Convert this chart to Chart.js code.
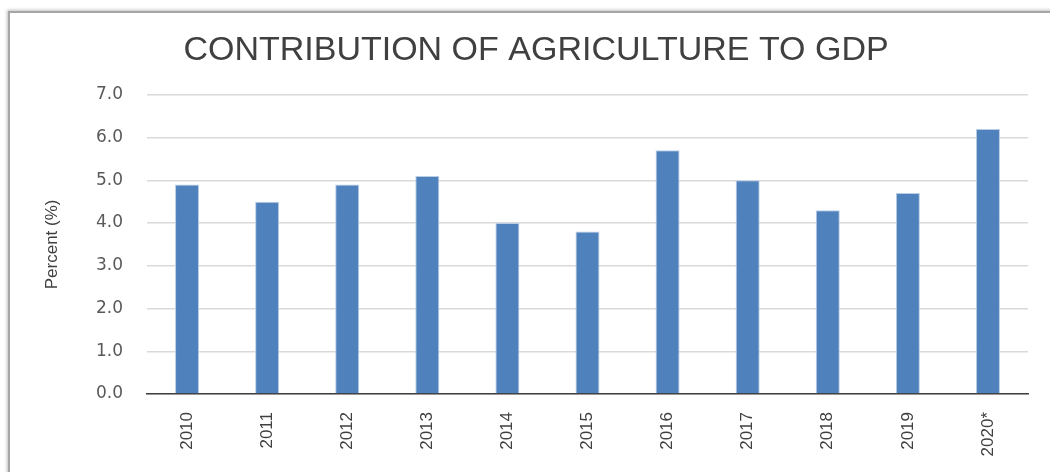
<!DOCTYPE html>
<html>
<head>
<meta charset="utf-8">
<script src="https://cdn.jsdelivr.net/npm/chart.js@4"></script>
<style>
  body { margin: 0; background: #fff; }
  #wrap { position: relative; width: 1050px; height: 472px; overflow: hidden; }
  #frame { position: absolute; left: 8px; top: 11px; width: 1100px; height: 500px;
           border-left: 2px solid #a6a6a6; border-top: 2px solid #a6a6a6;
           box-shadow: -1px -1px 3px rgba(0,0,0,0.25); }
  canvas { position: absolute; left: 0; top: 0; }
</style>
</head>
<body>
<div id="wrap">
  <div id="frame"></div>
  <canvas id="chart" width="1050" height="472"></canvas>
</div>
<script>
let years = ["2010", "2011", "2012", "2013", "2014", "2015", "2016", "2017", "2018", "2019", "2020*"]
let share = [4.9, 4.5, 4.9, 5.1, 4.0, 3.8, 5.7, 5.0, 4.3, 4.7, 6.2]

new Chart(document.getElementById("chart"), {
    type: 'bar',
    data: {
        labels: years,
        datasets: [
            {
                label: "Agriculture share of GDP",
                backgroundColor: "#4f81bd",
                borderColor: "#b9cde5",
                borderWidth: 1,
                categoryPercentage: 1,
                barPercentage: 0.3,
                data: share
            }
        ]
    },
    options: {
        responsive: false,
        animation: false,
        layout: { padding: { left: 44, right: 22, top: 12, bottom: 0 } },
        plugins: {
            legend: { display: false },
            tooltip: { enabled: false },
            title: {
                display: true,
                text: 'CONTRIBUTION OF AGRICULTURE TO GDP',
                color: '#404040',
                font: { family: "'Liberation Sans'", size: 34, weight: 'normal', lineHeight: 1.2 },
                padding: { top: 18, bottom: 24 }
            }
        },
        scales: {
            x: {
                grid: { display: false },
                border: { display: true, color: '#404040', width: 1.5 },
                ticks: {
                    minRotation: 90, maxRotation: 90, padding: 10,
                    color: '#404040',
                    font: { family: "'Liberation Sans'", size: 17 }
                },
                afterFit: function (scale) { scale.height = 78 }
            },
            y: {
                min: 0, max: 7,
                grid: { color: '#d9d9d9', lineWidth: 1.5, drawTicks: false },
                border: { display: false },
                ticks: {
                    stepSize: 1, padding: 24, color: '#595959',
                    font: { family: "'DejaVu Sans'", size: 17 },
                    callback: function (v) { return v.toFixed(1) }
                },
                title: {
                    display: true, text: 'Percent (%)', color: '#404040',
                    font: { family: "'Liberation Sans'", size: 17, lineHeight: 1 },
                    padding: { top: 0, bottom: 0 }
                },
                afterFit: function (scale) { scale.width = 103 }
            }
        }
    }
});
</script>
</body>
</html>
